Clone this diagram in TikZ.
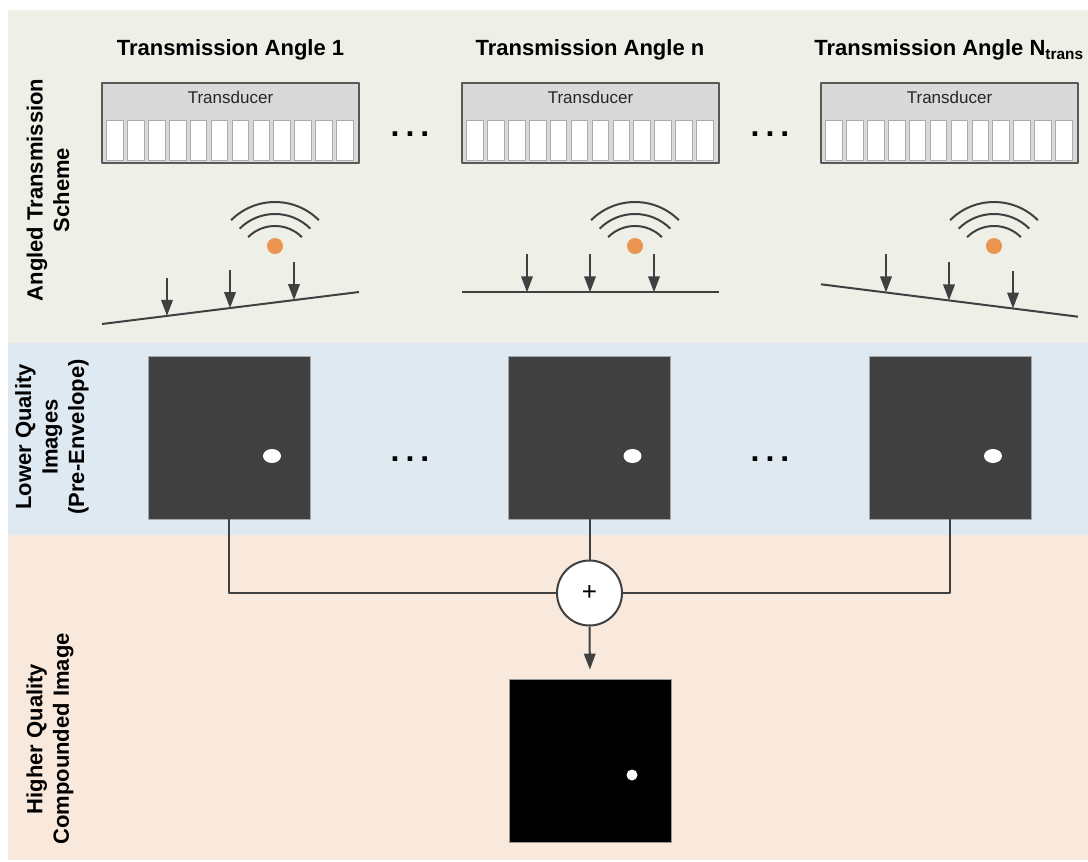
\documentclass[tikz,border=0pt]{standalone}
\usepackage{fontspec}
\setmainfont{Liberation Sans}
\usetikzlibrary{arrows.meta,calc}
\definecolor{bgtop}{HTML}{EEF0E7}
\definecolor{bgmid}{HTML}{DFE9F2}
\definecolor{bgbot}{HTML}{F9E9DC}
\definecolor{lc}{HTML}{404040}
\definecolor{tdfill}{HTML}{D9D9D9}
\definecolor{tdline}{HTML}{595959}
\definecolor{elline}{HTML}{ABABAB}
\definecolor{dotc}{HTML}{EA9550}
\definecolor{imgc}{HTML}{404040}
\newcommand\bigbf{\fontsize{22}{26.5}\selectfont\bfseries}
\tikzset{
  ln/.style={draw=lc, line width=2pt},
  arr/.style={ln, -{Triangle[length=16pt,width=11.5pt]}},
  tdbox/.style={draw=tdline, fill=tdfill, line width=2pt, minimum width=257pt, minimum height=80pt, inner sep=0pt},
  elem/.style={draw=elline, fill=white, line width=1pt},
  imgbox/.style={draw=gray!70, fill=imgc, line width=0.8pt, minimum width=162pt, minimum height=163pt, inner sep=0pt},
  title/.style={font=\bigbf, anchor=base},
  side/.style={font=\bigbf, align=center, rotate=90},
  ellip/.style={font=\fontsize{32}{32}\selectfont\bfseries, inner sep=0pt}
}
\begin{document}
\begin{tikzpicture}[x=1pt,y=-1pt,line join=round]
\useasboundingbox (0,0) rectangle (1088,862);
\fill[white] (0,0) rectangle (1088,862);
\fill[bgtop] (8,10) rectangle (1088,343);
\fill[bgmid] (8,343) rectangle (1088,535);
\fill[bgbot] (8,535) rectangle (1088,860);

% side labels
\node[side] (lab1) at (48,190) {Angled Transmission\\Scheme};
\node[side] (lab2) at (52,437) {Lower Quality\\Images\\(Pre-Envelope)};
\node[side] (lab3) at (50,739) {Higher Quality\\Compounded Image};

% titles
\node[title] (t1) at (230.5,56) {Transmission Angle 1};
\node[title] (t2) at (590,56) {Transmission Angle n};
\node[title] (t3) at (949,56) {Transmission Angle N\textsubscript{trans}};

% transducers, scatterers, ground lines
\foreach \i/\ox/\tl/\tr in {1/102/324/292, 2/462/292.3/292.3, 3/821/284.3/316.7}{
  \node[tdbox] (td\i) at (\ox+128.5,123) {};
  \node[anchor=base, font=\fontsize{17}{20}\selectfont, text=black!85] (tl\i) at (\ox+128.5,103) {Transducer};
  \foreach \k in {0,...,11}{
    \draw[elem] (\ox+4.7+\k*20.9,120) rectangle ++(16.6,40.7);
  }
  \node[circle, fill=dotc, minimum size=16pt, inner sep=0pt] (s\i) at (\ox+173,246) {};
  \coordinate (wc\i) at (\ox+173,264);
  \foreach \r in {38,50,62}{
    \draw[ln] ([shift={(45:\r pt)}]wc\i) arc[start angle=45,end angle=135,radius=\r pt];
  }
  \coordinate (gl\i) at (\ox,\tl);
  \coordinate (gr\i) at (\ox+257,\tr);
  \draw[ln] (gl\i) -- (gr\i);
  \foreach \d [count=\j] in {65,128,192}{
    \coordinate (p\i\j) at ($(gl\i)!\d/257!(gr\i)$);
    \draw[arr] ([yshift=38pt]p\i\j) -- (p\i\j);
  }
}

% ellipses between columns
\node[ellip] (d1) at (410,134) {.\hspace{6pt}.\hspace{6pt}.};
\node[ellip] (d2) at (770,134) {.\hspace{6pt}.\hspace{6pt}.};
\node[ellip] (d3) at (410,459) {.\hspace{6pt}.\hspace{6pt}.};
\node[ellip] (d4) at (770,459) {.\hspace{6pt}.\hspace{6pt}.};

% lower quality images
\foreach \i/\cx in {1/229, 2/589.5, 3/950}{
  \node[imgbox] (img\i) at (\cx,437.5) {};
  \fill[white] ($(img\i.center)+(43,18.5)$) ellipse[x radius=9pt, y radius=7pt];
}

% summation
\node[circle, draw=lc, line width=2pt, fill=white, minimum size=65pt, inner sep=0pt, font=\fontsize{26}{26}\selectfont] (sum) at (589.5,593) {+};

% compounded image
\node[draw=gray!80, fill=black, line width=0.8pt, minimum width=162pt, minimum height=163pt, inner sep=0pt] (final) at (590,760.5) {};
\fill[white] (632,775) circle[radius=5.5pt];

% connectors
\draw[ln] (img1.south) |- (sum.west);
\draw[ln] (img2.south) -- (sum.north);
\draw[ln] (img3.south) |- (sum.east);
\draw[arr, shorten >=9pt] (sum.south) -- (final.north);
\end{tikzpicture}
\end{document}
